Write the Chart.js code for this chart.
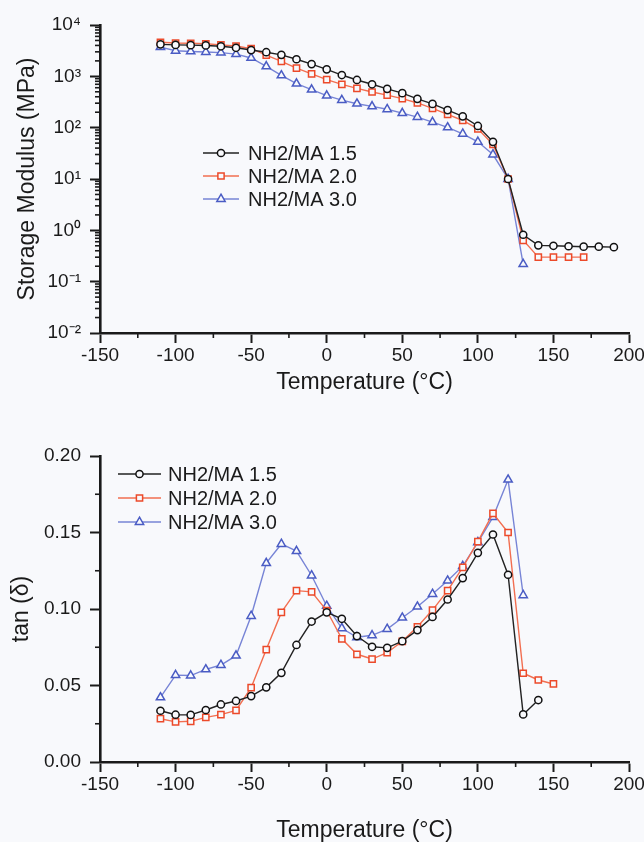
<!DOCTYPE html>
<html lang="en">
<head>
<meta charset="UTF-8">
<title>Storage modulus and tan delta vs temperature</title>
<script src="https://cdn.jsdelivr.net/npm/chart.js"></script>
<style>
  html, body { margin: 0; padding: 0; background: #f8f9fc; overflow: hidden; }
  body { width: 644px; height: 842px; position: relative; }
  canvas { position: absolute; left: 0; }
  #modChart { top: 0; }
  #tanChart { top: 420px; }
</style>
</head>
<body>
<canvas id="modChart" width="680" height="400"></canvas>
<canvas id="tanChart" width="680" height="440"></canvas>
<script>
// ---- data ----
const seriesNames = ['NH2/MA 1.5', 'NH2/MA 2.0', 'NH2/MA 3.0'];

// storage modulus (MPa)
const modTemp15 = [-110,-100,-90,-80,-70,-60,-50,-40,-30,-20,-10,0,10,20,30,40,50,60,70,80,90,100,110,120,130,140,150,160,170,180,190];
const mod15 = [4200,4100,4050,4000,3850,3600,3250,2950,2620,2150,1730,1370,1060,850,700,570,470,365,290,220,166,108,53,10,0.82,0.51,0.50,0.49,0.48,0.48,0.47];
const modTemp20 = [-110,-100,-90,-80,-70,-60,-50,-40,-30,-20,-10,0,10,20,30,40,50,60,70,80,90,100,110,120,130,140,150,160,170];
const mod20 = [4600,4450,4400,4300,4100,3900,3450,2600,1950,1440,1120,860,695,583,495,430,368,303,238,182,138,95,47,10,0.64,0.30,0.30,0.30,0.30];
const modTemp30 = [-110,-100,-90,-80,-70,-60,-50,-40,-30,-20,-10,0,10,20,30,40,50,60,70,80,90,100,110,120,130];
const mod30 = [3700,3150,3050,2980,2900,2710,2280,1560,1040,720,550,420,345,293,260,228,192,161,128,101,76,53,30,10,0.22];

// tan delta
const tanTemp15 = [-110,-100,-90,-80,-70,-60,-50,-40,-30,-20,-10,0,10,20,30,40,50,60,70,80,90,100,110,120,130,140];
const tan15 = [0.0335,0.0309,0.0308,0.034,0.0376,0.0399,0.0431,0.0488,0.0583,0.0765,0.0918,0.0978,0.0936,0.0823,0.0753,0.0746,0.079,0.0862,0.0948,0.1062,0.1202,0.1367,0.1487,0.1224,0.0311,0.0405];
const tanTemp20 = [-110,-100,-90,-80,-70,-60,-50,-40,-30,-20,-10,0,10,20,30,40,50,60,70,80,90,100,110,120,130,140,150];
const tan20 = [0.0283,0.0262,0.0266,0.0292,0.031,0.0337,0.0486,0.0735,0.0978,0.112,0.1112,0.099,0.0805,0.0704,0.0673,0.0714,0.0789,0.0884,0.0993,0.112,0.1272,0.144,0.1625,0.150,0.058,0.0536,0.051];
const tanTemp30 = [-110,-100,-90,-80,-70,-60,-50,-40,-30,-20,-10,0,10,20,30,40,50,60,70,80,90,100,110,120,130];
const tan30 = [0.0422,0.0568,0.0565,0.0605,0.0634,0.0695,0.0954,0.130,0.1425,0.1378,0.1219,0.102,0.0874,0.0815,0.0828,0.0869,0.0943,0.1015,0.1098,0.1185,0.128,0.1436,0.160,0.1845,0.109];

// axis ticks
const xTicks = [-150,-100,-50,0,50,100,150,200];
const xMinor = [-125,-75,-25,25,75,125,175];
const modTicks = [0.01,0.1,1,10,100,1000,10000];
const modLabels = ['10\u207B\u00B2','10\u207B\u00B9','10\u2070','10\u00B9','10\u00B2','10\u00B3','10\u2074'];
const tanTicks = [0,0.05,0.1,0.15,0.2];
const tanLabels = ['0.00','0.05','0.10','0.15','0.20'];
const tanMinor = [0.025,0.075,0.125,0.175];

const FONT = "'Liberation Sans', Arial, Helvetica, sans-serif";
const BG = '#f8f9fc';
const INK = '#1a1a1a';

// log minor ticks 2..9 in every decade
const modMinor = [];
for (let e = -2; e < 4; e++) for (let k = 2; k <= 9; k++) modMinor.push(k * Math.pow(10, e));

const styles = [
  { line: '#222222', mark: '#111111', shape: 'circle', r: 3.6 },
  { line: '#f26e50', mark: '#ec4a2a', shape: 'rect', r: 4.4 },
  { line: '#7784d6', mark: '#4a5cc4', shape: 'triangle', r: 4.8 }
];

function pts(xs, ys) { return xs.map((x, i) => ({ x: x, y: ys[i] })); }

function makeSets(groups) {
  return groups.map((g, i) => ({
    label: seriesNames[i],
    data: pts(g[0], g[1]),
    borderColor: styles[i].line,
    borderWidth: 1.4,
    pointStyle: styles[i].shape,
    pointRadius: styles[i].r,
    pointBorderColor: styles[i].mark,
    pointBorderWidth: 1.5,
    pointBackgroundColor: BG,
    tension: 0,
    clip: false
  }));
}

// draws short minor ticks outside the axes
const minorTicks = {
  id: 'minorTicks',
  afterDraw(chart, args, opts) {
    const ctx = chart.ctx, xs = chart.scales.x, ys = chart.scales.y;
    ctx.save();
    ctx.strokeStyle = INK;
    ctx.lineWidth = 1.6;
    opts.x.forEach(v => {
      const p = xs.getPixelForValue(v);
      ctx.beginPath(); ctx.moveTo(p, xs.top); ctx.lineTo(p, xs.top + opts.len); ctx.stroke();
    });
    opts.y.forEach(v => {
      const p = ys.getPixelForValue(v);
      ctx.beginPath(); ctx.moveTo(ys.right, p); ctx.lineTo(ys.right - opts.len, p); ctx.stroke();
    });
    ctx.restore();
  }
};

// legend as "—o— name" inside the plot
const lineLegend = {
  id: 'lineLegend',
  afterDatasetsDraw(chart, args, opts) {
    const ctx = chart.ctx;
    ctx.save();
    chart.data.datasets.forEach((ds, i) => {
      const y = opts.y + i * opts.gap;
      ctx.strokeStyle = ds.borderColor;
      ctx.lineWidth = 1.6;
      ctx.beginPath(); ctx.moveTo(opts.x, y); ctx.lineTo(opts.x + opts.len, y); ctx.stroke();
      ctx.fillStyle = BG;
      ctx.strokeStyle = ds.pointBorderColor;
      ctx.lineWidth = ds.pointBorderWidth;
      Chart.helpers.drawPoint(ctx, { pointStyle: ds.pointStyle, radius: ds.pointRadius, borderWidth: ds.pointBorderWidth, rotation: 0 }, opts.x + opts.len / 2, y);
      ctx.fillStyle = INK;
      ctx.font = opts.size + 'px ' + FONT;
      ctx.textBaseline = 'middle';
      ctx.textAlign = 'left';
      ctx.fillText(ds.label, opts.x + opts.len + opts.textGap, y + 1);
    });
    ctx.restore();
  }
};

function xAxis(height, titlePad) {
  return {
    type: 'linear', min: -150, max: 200,
    afterBuildTicks: s => { s.ticks = xTicks.map(v => ({ value: v })); },
    afterFit: s => { s.height = height; },
    grid: { drawOnChartArea: false, tickLength: 10, tickColor: INK, tickWidth: 2 },
    border: { color: INK, width: 2.6 },
    ticks: { font: { family: FONT, size: 19 }, color: INK, padding: 1, maxRotation: 0, autoSkip: false },
    title: { display: true, text: 'Temperature (\u00B0C)', font: { family: FONT, size: 23 }, color: INK, padding: { top: 0, bottom: titlePad } }
  };
}

function yAxis(extra, title, titlePad) {
  return Object.assign({
    afterFit: s => { s.width = 100; },
    grid: { drawOnChartArea: false, tickLength: 10, tickColor: INK, tickWidth: 2 },
    border: { color: INK, width: 2.6 },
    title: { display: true, text: title, font: { family: FONT, size: 23 }, color: INK, padding: { top: titlePad, bottom: 0 } }
  }, extra);
}

new Chart(document.getElementById('modChart'), {
  type: 'line',
  data: { datasets: makeSets([[modTemp15, mod15], [modTemp20, mod20], [modTemp30, mod30]]) },
  options: {
    responsive: false, animation: false, parsing: true,
    layout: { padding: { top: 25, right: 51, bottom: 0, left: 0 } },
    plugins: {
      legend: { display: false }, tooltip: { enabled: false },
      minorTicks: { x: xMinor, y: modMinor, len: 5 },
      lineLegend: { x: 203, y: 153, gap: 23, len: 36, textGap: 9, size: 20 }
    },
    scales: {
      x: xAxis(67, 4),
      y: yAxis({
        type: 'logarithmic', min: 0.01, max: 10000,
        afterBuildTicks: s => { s.ticks = modTicks.map(v => ({ value: v })); },
        ticks: { font: { family: FONT, size: 19 }, color: INK, padding: 9, autoSkip: false,
                 callback: (v, i) => modLabels[i] }
      }, 'Storage Modulus (MPa)', 14)
    }
  },
  plugins: [minorTicks, lineLegend]
});

new Chart(document.getElementById('tanChart'), {
  type: 'line',
  data: { datasets: makeSets([[tanTemp15, tan15], [tanTemp20, tan20], [tanTemp30, tan30]]) },
  options: {
    responsive: false, animation: false,
    layout: { padding: { top: 36, right: 51, bottom: 0, left: 0 } },
    plugins: {
      legend: { display: false }, tooltip: { enabled: false },
      minorTicks: { x: xMinor, y: tanMinor, len: 5 },
      lineLegend: { x: 118, y: 54, gap: 24, len: 43, textGap: 7, size: 20 }
    },
    scales: {
      x: xAxis(98, 16),
      y: yAxis({
        type: 'linear', min: 0, max: 0.2,
        afterBuildTicks: s => { s.ticks = tanTicks.map(v => ({ value: v })); },
        ticks: { font: { family: FONT, size: 19 }, color: INK, padding: 9, autoSkip: false,
                 callback: (v, i) => tanLabels[i] }
      }, 'tan (\u03B4)', 8)
    }
  },
  plugins: [minorTicks, lineLegend]
});
</script>
</body>
</html>
